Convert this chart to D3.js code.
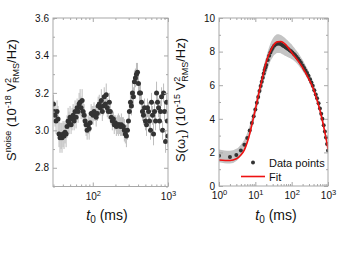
<!DOCTYPE html>
<html>
<head>
<meta charset="utf-8">
<script src="https://cdn.jsdelivr.net/npm/d3@7"></script>
<style>
  body { margin: 0; background: #fff; }
  svg { display: block; font-family: "Liberation Sans", Arial, sans-serif; }
</style>
</head>
<body>
<svg id="chart" width="340" height="255"></svg>
<script>
// left panel: noise spectrum vs t0
const noiseT = [30, 30.5, 31.5, 32.5, 33.5, 34.5, 35.6, 36.7, 37.9, 39, 40.3, 41.5, 42.8, 44.2, 45.5, 47, 48.4, 49.9,
  51.5, 53.1, 54.8, 56.5, 58.2, 60, 61.9, 63.8, 65.8, 67.9, 70, 72.2, 74.4, 76.7, 79.1, 81.6, 84.2, 86.8, 89.5, 92.3,
  95.1, 98.1, 101, 104, 108, 111, 115, 118, 122, 126, 130, 134, 138, 142, 147, 151, 156, 161, 166, 171, 176, 182,
  188, 193, 199, 206, 212, 219, 226, 233, 240, 248, 255, 263, 271, 280, 289, 298, 307, 317, 326, 337, 347, 358, 369,
  381, 393, 405, 418, 431, 444, 458, 472, 487, 502, 518, 534, 551, 568, 586, 604, 623, 642, 662, 683, 704, 726, 749,
  772, 796, 821, 847, 873, 900, 928, 957, 980, 998];
const noiseS = [3.14, 3.10, 3.08, 3.05, 3.10, 3.06, 2.98, 2.96, 2.97, 2.96, 2.98, 2.97, 2.99, 2.98, 3.02, 3.05, 3.04, 3.07,
  3.03, 3.06, 3.08, 3.05, 3.10, 3.07, 3.12, 3.10, 3.14, 3.15, 3.12, 3.16, 3.10, 3.08, 3.05, 3.03, 3.00, 3.03, 3.01, 3.04,
  3.09, 3.09, 3.08, 3.10, 3.09, 3.07, 3.09, 3.13, 3.14, 3.12, 3.16, 3.10, 3.13, 3.18, 3.14, 3.19, 3.12, 3.10, 3.15, 3.10,
  3.07, 3.05, 3.06, 3.03, 3.04, 3.02, 3.03, 3.03, 3.03, 3.02, 3.03, 3.02, 3.02, 3.00, 2.98, 2.97, 3.00, 3.05, 3.10, 3.15,
  3.13, 3.20, 3.18, 3.26, 3.28, 3.30, 3.31, 3.25, 3.20, 3.20, 3.15, 3.10, 3.08, 3.12, 3.05, 3.03, 3.12, 3.10, 3.05, 3.00,
  3.15, 3.08, 2.98, 3.10, 3.05, 3.20, 3.15, 3.12, 3.05, 3.10, 3.18, 3.00, 3.20, 3.10, 2.94, 3.15, 3.05, 2.97];
const noiseErr = [0.05, 0.06, 0.06, 0.07, 0.06, 0.07, 0.07, 0.08, 0.07, 0.08, 0.07, 0.07, 0.06, 0.07, 0.06, 0.07, 0.06, 0.06,
  0.05, 0.06, 0.06, 0.05, 0.06, 0.06, 0.05, 0.06, 0.06, 0.07, 0.06, 0.06, 0.05, 0.06, 0.05, 0.06, 0.05, 0.05, 0.06, 0.05,
  0.05, 0.04, 0.05, 0.05, 0.04, 0.05, 0.04, 0.05, 0.05, 0.04, 0.06, 0.05, 0.05, 0.05, 0.04, 0.06, 0.05, 0.04, 0.05, 0.05,
  0.04, 0.05, 0.04, 0.05, 0.04, 0.05, 0.05, 0.06, 0.05, 0.05, 0.06, 0.05, 0.05, 0.06, 0.05, 0.06, 0.05, 0.05, 0.05, 0.05,
  0.05, 0.06, 0.05, 0.06, 0.05, 0.06, 0.05, 0.05, 0.05, 0.05, 0.06, 0.05, 0.05, 0.05, 0.05, 0.06, 0.05, 0.05, 0.06, 0.05,
  0.05, 0.05, 0.06, 0.05, 0.05, 0.06, 0.05, 0.05, 0.05, 0.06, 0.05, 0.05, 0.05, 0.05, 0.06, 0.05, 0.05, 0.06];

// right panel: S(omega_1) vs t0
const dataT = [1, 2, 3, 4, 5, 6, 7, 8, 9, 10, 11, 12, 13, 14, 15, 16, 17, 18, 19, 20, 22, 24, 26, 28, 30, 33, 36, 40, 44,
  48, 52, 57, 62, 68, 74, 80, 88, 96, 105, 115, 125, 137, 150, 165, 180, 200, 220, 240, 265, 290, 320, 350, 380, 420,
  460, 500, 550, 600, 650, 700, 760, 820, 880, 940, 1000];
const dataS = [1.80, 1.72, 1.85, 2.12, 2.45, 2.85, 3.30, 3.75, 4.15, 4.55, 4.95, 5.30, 5.65, 5.95, 6.20, 6.45, 6.70, 6.90,
  7.05, 7.20, 7.50, 7.75, 7.95, 8.10, 8.22, 8.35, 8.42, 8.47, 8.48, 8.46, 8.42, 8.37, 8.32, 8.26, 8.20, 8.15, 8.08, 8.02,
  7.95, 7.86, 7.78, 7.68, 7.58, 7.45, 7.33, 7.18, 7.03, 6.88, 6.72, 6.56, 6.36, 6.16, 5.97, 5.70, 5.45, 5.22, 4.92, 4.62,
  4.30, 4.00, 3.62, 3.25, 2.88, 2.50, 2.12];
const dataErr = [0.38, 0.38, 0.36, 0.34, 0.32, 0.32, 0.32, 0.33, 0.34, 0.35, 0.36, 0.38, 0.40, 0.42, 0.43, 0.45, 0.46, 0.47,
  0.48, 0.49, 0.50, 0.52, 0.53, 0.54, 0.55, 0.55, 0.56, 0.56, 0.56, 0.55, 0.55, 0.54, 0.53, 0.52, 0.50, 0.48, 0.46, 0.44,
  0.42, 0.40, 0.38, 0.37, 0.36, 0.35, 0.34, 0.33, 0.32, 0.31, 0.30, 0.29, 0.28, 0.27, 0.26, 0.25, 0.24, 0.23, 0.22, 0.21,
  0.20, 0.19, 0.18, 0.17, 0.16, 0.15, 0.15];
const fitT = [1, 2, 3, 4, 5, 6, 7, 8, 10, 13, 16, 20, 25, 30, 40, 50, 60, 80, 100, 150, 200, 300, 400, 500, 600, 700, 800,
  900, 1000];
const fitS = [1.55, 1.52, 1.62, 1.85, 2.15, 2.60, 3.10, 3.65, 4.55, 5.70, 6.50, 7.40, 7.95, 8.30, 8.58, 8.60, 8.52, 8.25,
  7.95, 7.45, 7.05, 6.35, 5.75, 5.10, 4.50, 3.90, 3.30, 2.75, 2.20];

const leftTicksY = [2.8, 3.0, 3.2, 3.4, 3.6];
const rightTicksY = [0, 2, 4, 6, 8, 10];
const legendLabels = ["Data points", "Fit"];

const svg = d3.select("#chart");
const FRAME = "#a8a8a8";

// log tick label like 10^2
function powLabel(sel) {
    sel.each(function (d) {
        const t = d3.select(this).text("");
        t.append("tspan").text("10");
        t.append("tspan").attr("dy", -4).attr("font-size", 7.5).text(Math.round(Math.log10(d)));
    });
}

function drawFrame(g, x, y, majorX, minorX, majorY, minorY, fmtY) {
    const [x0, x1] = x.range();
    const [y0, y1] = y.range();
    const h = y0 - y1;
    const w = x1 - x0;

    g.append("rect")
        .attr("x", x0).attr("y", y1)
        .attr("width", w).attr("height", h)
        .attr("fill", "none").attr("stroke", FRAME).attr("stroke-width", 1);

    const styleAxis = a => {
        a.select(".domain").remove();
        a.selectAll(".tick line").attr("stroke", FRAME);
        a.selectAll(".tick text").attr("fill", "#111").attr("font-size", 10);
    };

    const bottom = g.append("g").attr("transform", `translate(0,${y0})`)
        .call(d3.axisBottom(x).tickValues(majorX).tickSize(-4).tickPadding(6))
        .call(styleAxis);
    bottom.selectAll(".tick text").call(powLabel);
    g.append("g").attr("transform", `translate(0,${y0})`)
        .call(d3.axisBottom(x).tickValues(minorX).tickSize(-2).tickFormat(""))
        .call(styleAxis);
    g.append("g").attr("transform", `translate(0,${y1})`)
        .call(d3.axisTop(x).tickValues(majorX).tickSize(-4).tickFormat(""))
        .call(styleAxis);
    g.append("g").attr("transform", `translate(0,${y1})`)
        .call(d3.axisTop(x).tickValues(minorX).tickSize(-2).tickFormat(""))
        .call(styleAxis);

    g.append("g").attr("transform", `translate(${x0},0)`)
        .call(d3.axisLeft(y).tickValues(majorY).tickSize(-4).tickPadding(4).tickFormat(fmtY))
        .call(styleAxis);
    g.append("g").attr("transform", `translate(${x0},0)`)
        .call(d3.axisLeft(y).tickValues(minorY).tickSize(-2).tickFormat(""))
        .call(styleAxis);
    g.append("g").attr("transform", `translate(${x1},0)`)
        .call(d3.axisRight(y).tickValues(majorY).tickSize(-4).tickFormat(""))
        .call(styleAxis);
    g.append("g").attr("transform", `translate(${x1},0)`)
        .call(d3.axisRight(y).tickValues(minorY).tickSize(-2).tickFormat(""))
        .call(styleAxis);
}

function xLabel(g, cx, cy) {
    const t = g.append("text")
        .attr("x", cx).attr("y", cy)
        .attr("text-anchor", "middle")
        .attr("font-size", 14).attr("fill", "#111");
    t.append("tspan").attr("font-style", "italic").text("t");
    t.append("tspan").attr("dy", 3).attr("font-size", 10).text("0");
    t.append("tspan").attr("dy", -3).text(" (ms)");
}

function yLabel(g, cx, cy, head, headSup, exp) {
    const t = g.append("text")
        .attr("transform", `translate(${cx},${cy}) rotate(-90)`)
        .attr("text-anchor", "middle")
        .attr("font-size", 13).attr("fill", "#111");
    t.append("tspan").text(head);
    if (headSup.sup) t.append("tspan").attr("dy", -5).attr("font-size", 9).text(headSup.sup);
    if (headSup.sub) t.append("tspan").attr("dy", 3).attr("font-size", 9).text(headSup.sub);
    t.append("tspan").attr("dy", headSup.sup ? 5 : (headSup.sub ? -3 : 0)).text(headSup.after + " (10");
    t.append("tspan").attr("dy", -5).attr("font-size", 9).text(exp);
    t.append("tspan").attr("dy", 5).text(" V");
    t.append("tspan").attr("dy", -5).attr("font-size", 9).text("2");
    t.append("tspan").attr("dx", -5).attr("dy", 8).attr("font-size", 9).text("RMS");
    t.append("tspan").attr("dy", -3).text("/Hz)");
}

// ---------- left panel ----------
const xL = d3.scaleLog().domain([29.6, 1000]).range([53, 168]);
const yL = d3.scaleLinear().domain([2.7, 3.6]).range([186.5, 18]);
const gL = svg.append("g");

svg.append("clipPath").attr("id", "clipL").append("rect")
    .attr("x", 53).attr("y", 18).attr("width", 115).attr("height", 168.5);

const noise = noiseT.map((t, i) => ({ t, s: noiseS[i], e: noiseErr[i] }));
const pL = gL.append("g").attr("clip-path", "url(#clipL)");
pL.selectAll("line.err").data(noise).join("line")
    .attr("x1", d => xL(d.t)).attr("x2", d => xL(d.t))
    .attr("y1", d => yL(d.s - d.e)).attr("y2", d => yL(d.s + d.e))
    .attr("stroke", "#bdbdbd").attr("stroke-width", 1);
pL.selectAll("circle").data(noise).join("circle")
    .attr("cx", d => xL(d.t)).attr("cy", d => yL(d.s))
    .attr("r", 2.5).attr("fill", "#333");

drawFrame(gL, xL, yL, [100, 1000],
    [30, 40, 50, 60, 70, 80, 90, 200, 300, 400, 500, 600, 700, 800, 900],
    leftTicksY, [2.7, 2.9, 3.1, 3.3, 3.5], d3.format(".1f"));
xLabel(gL, 107, 220);
yLabel(gL, 16, 100, "S", { sup: "noise", after: "" }, "-18");

// ---------- right panel ----------
const xR = d3.scaleLog().domain([1, 1000]).range([219, 328]);
const yR = d3.scaleLinear().domain([0, 10]).range([186, 18]);
const gR = svg.append("g");

svg.append("clipPath").attr("id", "clipR").append("rect")
    .attr("x", 219).attr("y", 18).attr("width", 109).attr("height", 168);

const data = dataT.map((t, i) => ({ t, s: dataS[i], e: dataErr[i] }));
const fit = fitT.map((t, i) => ({ t, s: fitS[i] }));
const pR = gR.append("g").attr("clip-path", "url(#clipR)");

pR.append("path").datum(data)
    .attr("fill", "#c4c4c4")
    .attr("d", d3.area().curve(d3.curveMonotoneX)
        .x(d => xR(d.t)).y0(d => yR(d.s - d.e)).y1(d => yR(d.s + d.e)));
pR.selectAll("circle").data(data).join("circle")
    .attr("cx", d => xR(d.t)).attr("cy", d => yR(d.s))
    .attr("r", 2).attr("fill", "#333");
pR.append("path").datum(fit)
    .attr("fill", "none").attr("stroke", "#ee1111").attr("stroke-width", 1.6)
    .attr("d", d3.line().curve(d3.curveMonotoneX).x(d => xR(d.t)).y(d => yR(d.s)));

drawFrame(gR, xR, yR, [1, 10, 100, 1000],
    [2, 3, 4, 5, 6, 7, 8, 9, 20, 30, 40, 50, 60, 70, 80, 90, 200, 300, 400, 500, 600, 700, 800, 900],
    rightTicksY, [1, 3, 5, 7, 9], d3.format("d"));
xLabel(gR, 276, 220);
yLabel(gR, 185, 100, "S(ω", { sub: "1", after: ")" }, "-15");

// legend
const lg = gR.append("g").attr("font-size", 11).attr("fill", "#111");
lg.append("circle").attr("cx", 253).attr("cy", 162.5).attr("r", 2).attr("fill", "#333");
lg.append("line").attr("x1", 241).attr("x2", 265).attr("y1", 176.5).attr("y2", 176.5)
    .attr("stroke", "#ee1111").attr("stroke-width", 1.6);
lg.selectAll("text").data(legendLabels).join("text")
    .attr("x", 269).attr("y", (d, i) => 166.5 + i * 14)
    .text(d => d);
</script>
</body>
</html>
